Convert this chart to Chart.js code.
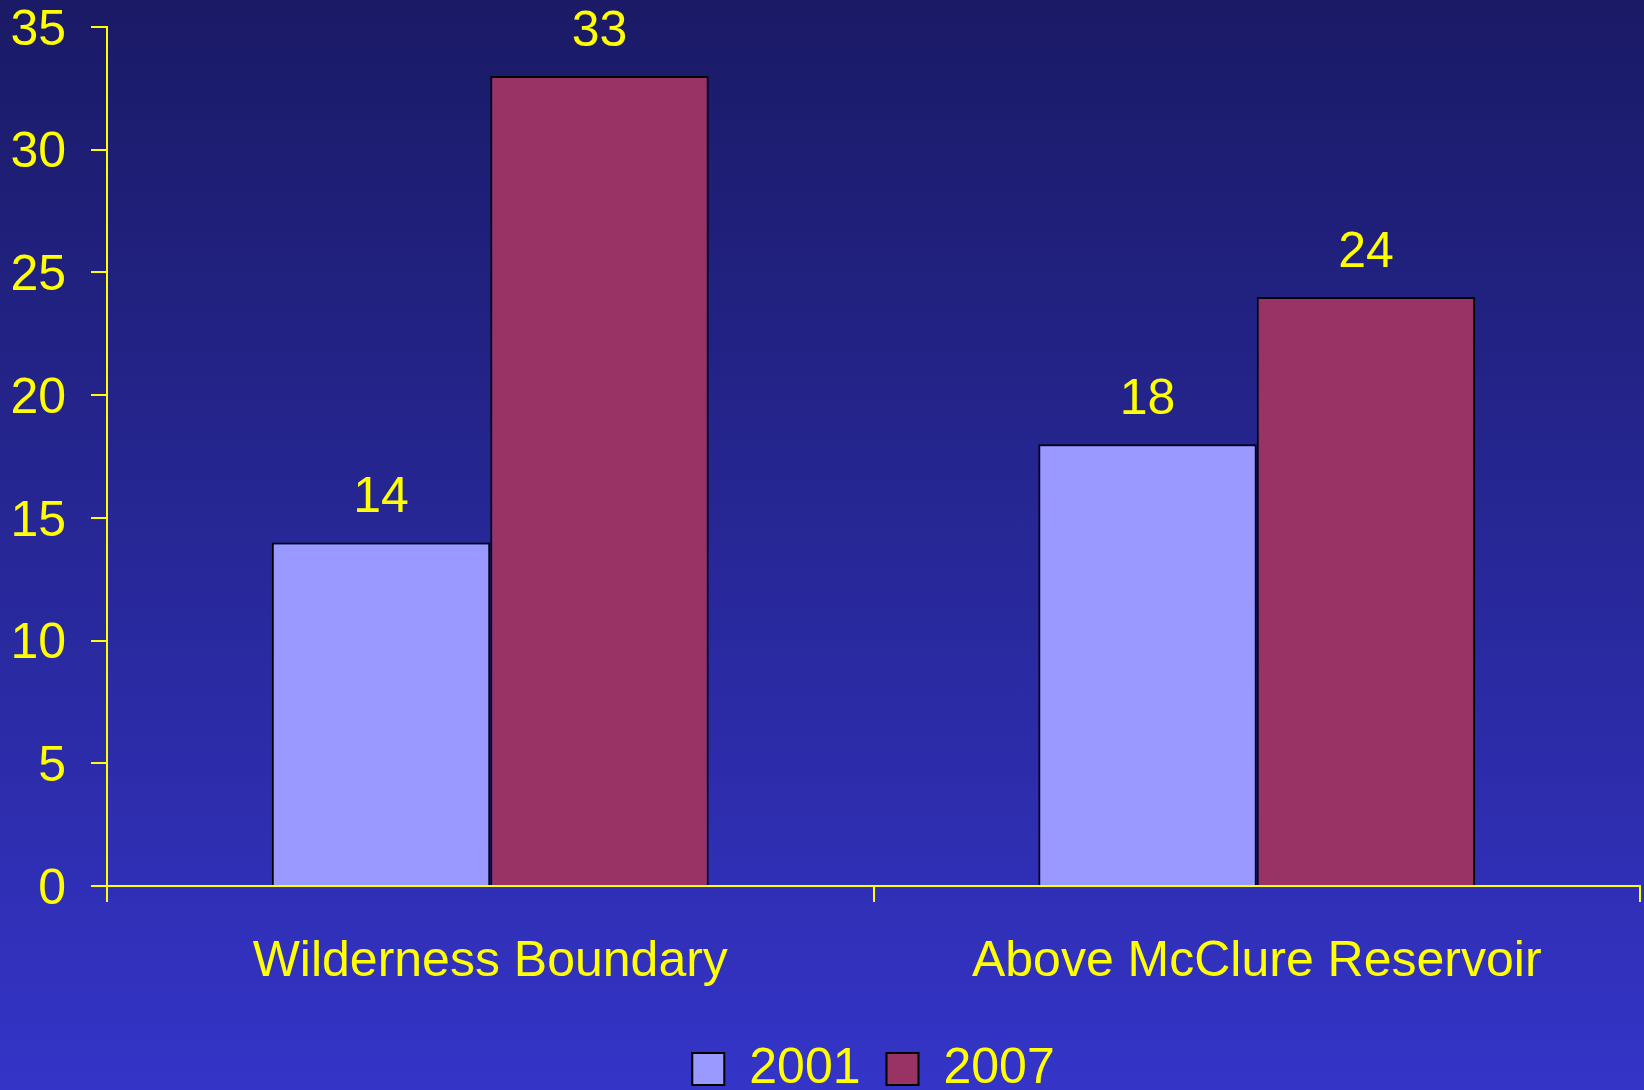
<!DOCTYPE html>
<html>
<head>
<meta charset="utf-8">
<script src="https://cdn.jsdelivr.net/npm/chart.js@4.4.3/dist/chart.umd.min.js"></script>
<style>
  html, body { margin: 0; padding: 0; }
  body {
    width: 1644px; height: 1090px; overflow: hidden;
    background: linear-gradient(#1a1a66, #3434c8);
  }
  #chart { display: block; }
</style>
</head>
<body>
<canvas id="chart" width="1644" height="1090"></canvas>
<script>
// chart values
const categories = ['Wilderness Boundary', 'Above McClure Reservoir'];
const seriesNames = ['2001', '2007'];
const values2001 = [14, 18];
const values2007 = [33, 24];
const yTicks = [0, 5, 10, 15, 20, 25, 30, 35];

const YELLOW = '#ffff00';
const FONT = '"Liberation Sans", Arial, sans-serif';

// writes the value above each bar
const barValues = {
  id: 'barValues',
  afterDatasetsDraw(chart) {
    const ctx = chart.ctx;
    ctx.save();
    ctx.fillStyle = YELLOW;
    ctx.font = '50px ' + FONT;
    ctx.textAlign = 'center';
    ctx.textBaseline = 'middle';
    chart.data.datasets.forEach((ds, i) => {
      chart.getDatasetMeta(i).data.forEach((bar, j) => {
        ctx.fillText(String(ds.data[j]), bar.x, bar.y - 44);
      });
    });
    ctx.restore();
  }
};

// centre the legend under the plot area, not the whole canvas
const legendUnderPlot = {
  id: 'legendUnderPlot',
  afterLayout(chart) {
    const lg = chart.legend;
    if (lg) {
      lg.left = chart.chartArea.left;
      lg.right = chart.chartArea.right;
    }
  }
};

new Chart(document.getElementById('chart'), {
  type: 'bar',
  data: {
    labels: categories,
    datasets: [
      {
        label: seriesNames[0],
        data: values2001,
        backgroundColor: '#9999ff',
        borderColor: '#000000',
        borderWidth: 2
      },
      {
        label: seriesNames[1],
        data: values2007,
        backgroundColor: '#993366',
        borderColor: '#000000',
        borderWidth: 2
      }
    ]
  },
  options: {
    responsive: false,
    animation: false,
    devicePixelRatio: 1,
    layout: { padding: { left: 0, right: 4, top: 27, bottom: -14 } },
    datasets: { bar: { categoryPercentage: 0.57, barPercentage: 1.0 } },
    plugins: {
      tooltip: { enabled: false },
      legend: {
        position: 'bottom',
        labels: {
          color: YELLOW,
          font: { size: 50, family: FONT },
          boxWidth: 32,
          boxHeight: 32,
          padding: 26
        }
      }
    },
    scales: {
      x: {
        afterFit(scale) {
          scale.height = 132;
          scale.paddingLeft = 0;
          scale.paddingRight = 0;
        },
        grid: {
          offset: true,
          drawOnChartArea: false,
          tickLength: 16,
          color: YELLOW,
          lineWidth: 2
        },
        border: { color: YELLOW, width: 2 },
        ticks: {
          color: YELLOW,
          font: { size: 50, family: FONT },
          padding: 30,
          maxRotation: 0
        }
      },
      y: {
        min: 0,
        max: 35,
        afterFit(scale) {
          scale.width = 107;
          scale.paddingTop = 0;
          scale.paddingBottom = 0;
        },
        afterBuildTicks(scale) { scale.ticks = yTicks.map(v => ({ value: v })); },
        grid: {
          drawOnChartArea: false,
          tickLength: 16,
          color: YELLOW,
          lineWidth: 2
        },
        border: { color: YELLOW, width: 2 },
        ticks: {
          color: YELLOW,
          font: { size: 50, family: FONT },
          padding: 25,
          labelOffset: 4
        }
      }
    }
  },
  plugins: [barValues, legendUnderPlot]
});
</script>
</body>
</html>
